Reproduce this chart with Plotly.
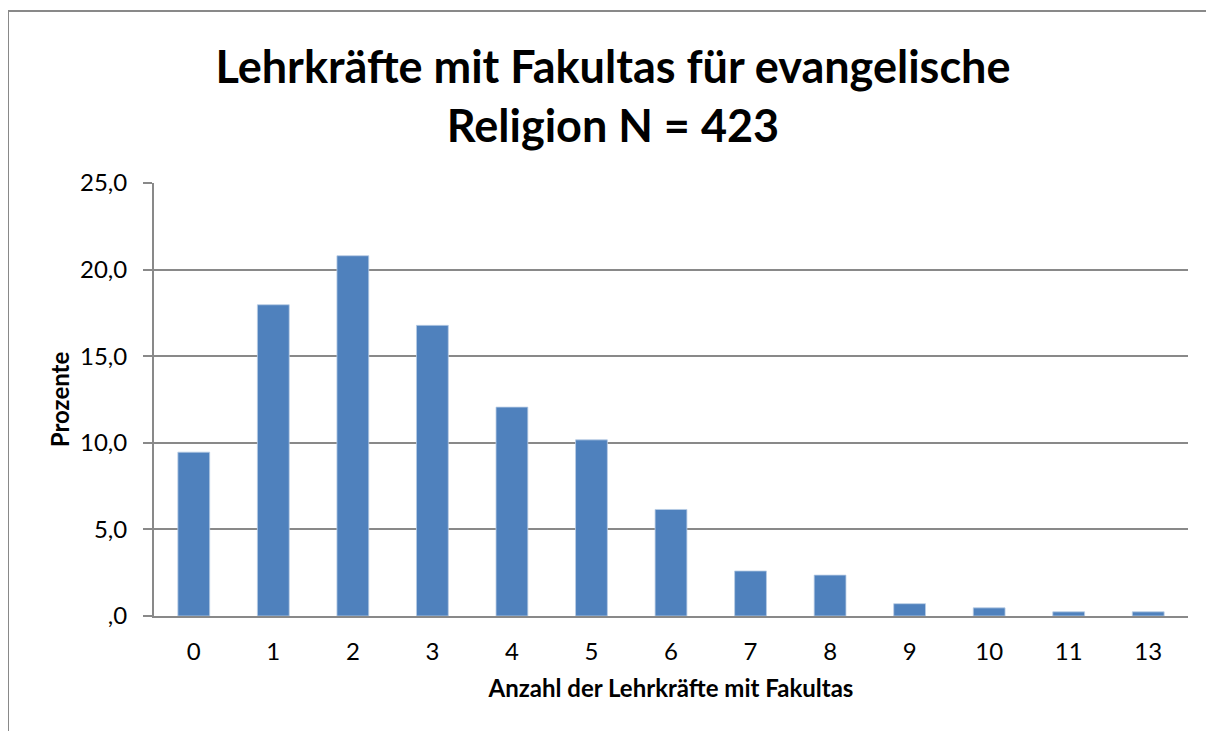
import plotly.graph_objects as go

# --- Daten ---
kategorien = ["0", "1", "2", "3", "4", "5", "6", "7", "8", "9", "10", "11", "13"]
prozente = [9.46, 17.97, 20.80, 16.78, 12.06, 10.17, 6.15, 2.60, 2.36, 0.71, 0.47, 0.24, 0.24]
y_ticks = [0, 5, 10, 15, 20, 25]
y_tick_text = [",0", "5,0", "10,0", "15,0", "20,0", "25,0"]

FONT = "Lato, Carlito, Calibri, sans-serif"
GRAU = "#898989"

fig = go.Figure()
fig.add_trace(go.Bar(
    x=kategorien, y=prozente,
    marker=dict(color="#4F81BD", line=dict(color="#B9CDE5", width=0.8)),
    showlegend=False
))

# Seite hat 8px Body-Rand -> Koordinaten in Figurpixeln
W, H = 1206, 723
L, R, T, B = 146, 1180, 175, 608
pw, ph = R - L, B - T

fig.update_layout(
    width=W, height=H,
    margin=dict(l=L, r=W - R, t=T, b=H - B, pad=0),
    paper_bgcolor="white", plot_bgcolor="white",
    bargap=0.6,
    font=dict(family=FONT, color="black"),
    title=dict(
        text="<b>Lehrkräfte mit Fakultas für evangelische<br>Religion N = 423</b>",
        font=dict(size=45, family=FONT),
        x=605 / W, xref="container", xanchor="center",
        y=1 - 75 / H, yref="container", yanchor="middle"
    ),
    xaxis=dict(
        type="category",
        showline=True, linecolor=GRAU, linewidth=2,
        ticks="", tickfont=dict(size=24), ticklabelstandoff=13,
        title=dict(text="<b>Anzahl der Lehrkräfte mit Fakultas</b>",
                   font=dict(size=24), standoff=16),
    ),
    yaxis=dict(
        range=[0, 25], tickvals=y_ticks, ticktext=y_tick_text,
        showline=True, linecolor=GRAU, linewidth=2,
        showgrid=True, gridcolor=GRAU, gridwidth=1.5,
        ticks="outside", ticklen=9, tickcolor=GRAU, tickwidth=2,
        tickfont=dict(size=24), ticklabelstandoff=11,
        title=dict(text="<b>Prozente</b>", font=dict(size=24), standoff=4),
        zeroline=False,
    ),
    shapes=[dict(
        type="rect", xref="paper", yref="paper",
        x0=(0 - L) / pw, x1=(W + 10 - L) / pw,
        y0=(B - (H + 10)) / ph, y1=(B - 3) / ph,
        line=dict(color=GRAU, width=2), fillcolor="rgba(0,0,0,0)",
        layer="below"
    )],
)

fig.write_html("out.html")
